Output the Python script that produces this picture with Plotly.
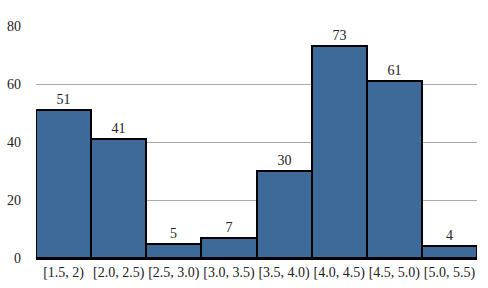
import plotly.graph_objects as go

categories = ["[1.5, 2)", "[2.0, 2.5)", "[2.5, 3.0)", "[3.0, 3.5)", "[3.5, 4.0)", "[4.0, 4.5)", "[4.5, 5.0)", "[5.0, 5.5)"]
counts = [51, 41, 5, 7, 30, 73, 61, 4]
y_ticks = [0, 20, 40, 60, 80]

serif = "Liberation Serif"

fig = go.Figure(go.Bar(
    x=categories, y=counts,
    text=[str(v) for v in counts], textposition="outside",
    textfont=dict(family=serif, size=14, color="#222"),
    marker=dict(color="#3d6a99", line=dict(color="black", width=2)),
    cliponaxis=False,
))
fig.update_layout(
    width=488, height=288,
    margin=dict(l=36, r=11, t=26, b=30),
    paper_bgcolor="white", plot_bgcolor="white",
    bargap=0, showlegend=False,
    font=dict(family=serif, size=14, color="#222"),
)
fig.update_yaxes(range=[0, 80], tickvals=y_ticks, showgrid=True, gridcolor="#aaaaaa", gridwidth=1,
                 zeroline=False, showline=False, ticks="", ticklabelstandoff=14, automargin=False,
                 tickfont=dict(family=serif, size=14, color="#222"))
fig.update_xaxes(showline=True, linecolor="black", linewidth=2, ticks="", showgrid=False, automargin=False,
                 tickangle=0, tickfont=dict(family=serif, size=14, color="#222"))
fig.write_html("out.html")
